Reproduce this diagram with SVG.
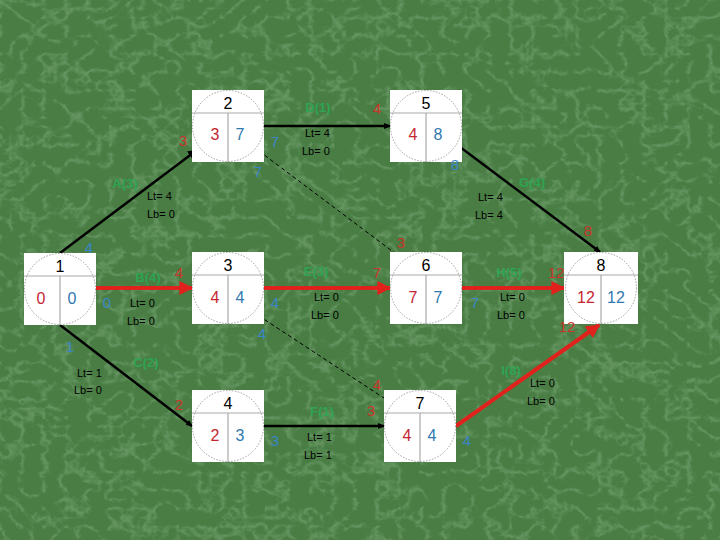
<svg xmlns="http://www.w3.org/2000/svg" width="720" height="540" viewBox="0 0 720 540">
<defs>
<filter id="marble" x="0" y="0" width="100%" height="100%">
<feTurbulence type="turbulence" baseFrequency="0.045 0.055" numOctaves="3" seed="3" result="n"/>
<feColorMatrix in="n" type="matrix" values="0 0 0 0 0.6  0 0 0 0 0.85  0 0 0 0 0.6  -4 0 0 0 1.1" result="veins"/>
<feComposite in="veins" in2="SourceGraphic" operator="in"/>
</filter>
<marker id="arB" viewBox="0 0 10 10" refX="9" refY="5" markerWidth="4" markerHeight="4" orient="auto"><path d="M0,0 L10,5 L0,10 z" fill="#000"/></marker>
<marker id="arR" viewBox="0 0 10 10" refX="9" refY="5" markerWidth="3.5" markerHeight="3.5" orient="auto"><path d="M0,0 L10,5 L0,10 z" fill="#e0211c"/></marker>
<marker id="dot" viewBox="0 0 10 10" refX="8" refY="5" markerWidth="3" markerHeight="3" orient="auto"><path d="M0,1 L10,5 L0,9 z" fill="#000"/></marker>
<style>
.sq{fill:#fff}
.ci{fill:none;stroke:#888;stroke-width:0.8;stroke-dasharray:1.5 1.5}
.dv{stroke:#aaa;stroke-width:1.2}
.t{font-family:"Liberation Sans",Arial,sans-serif;font-size:16px;text-anchor:middle}
.num{fill:#000}
.es{fill:#c42531}
.ls{fill:#2f78b0}
.or{fill:#c8352a;font-family:"Liberation Sans",Arial,sans-serif;font-size:15px;text-anchor:middle}
.ob{fill:#3a86c8;font-family:"Liberation Sans",Arial,sans-serif;font-size:15px;text-anchor:middle}
.gl{fill:#2ea452;font-family:"Liberation Sans",Arial,sans-serif;font-size:13px;font-weight:bold;text-anchor:middle}
.l{fill:#000;font-family:"Liberation Sans",Arial,sans-serif;font-size:11px}
.bk{stroke:#000;stroke-width:2.5;fill:none}
.rd{stroke:#e0211c;stroke-width:4;fill:none}
.ds{stroke:#000;stroke-width:1;stroke-dasharray:4 3;fill:none}
</style>
</defs>
<rect width="720" height="540" fill="#497d44"/>
<rect width="720" height="540" fill="#497d44" filter="url(#marble)" opacity="0.22"/>

<g id="connectors">
<line class="bk" x1="60" y1="253" x2="197" y2="150" marker-end="url(#arB)"/>
<line class="bk" x1="264" y1="126" x2="390" y2="126" marker-end="url(#dot)"/>
<line class="bk" x1="456" y1="144" x2="600" y2="252" marker-end="url(#dot)"/>
<line class="rd" x1="96" y1="288" x2="192" y2="288" marker-end="url(#arR)"/>
<line class="rd" x1="264" y1="288" x2="390" y2="288" marker-end="url(#arR)"/>
<line class="rd" x1="462" y1="288" x2="564" y2="288" marker-end="url(#arR)"/>
<line class="rd" x1="456" y1="426" x2="599" y2="325" marker-end="url(#arR)"/>
<line class="bk" x1="60" y1="325" x2="192" y2="426" marker-end="url(#dot)"/>
<line class="bk" x1="264" y1="426" x2="384" y2="426" marker-end="url(#dot)"/>
<line class="ds" x1="259" y1="151" x2="400" y2="257"/>
<line class="ds" x1="253" y1="312" x2="390" y2="402"/>
</g>

<g id="node1">
<rect class="sq" x="24" y="253" width="72" height="72"/>
<circle class="ci" cx="60" cy="289" r="35.5"/>
<line class="dv" x1="24" y1="276" x2="96" y2="276"/>
<line class="dv" x1="60" y1="276" x2="60" y2="325"/>
<text class="t num" x="60" y="272">1</text>
<text class="t es" x="41" y="304">0</text>
<text class="t ls" x="72" y="304">0</text>
</g>
<g id="node2">
<rect class="sq" x="192" y="90" width="72" height="72"/>
<circle class="ci" cx="228" cy="126" r="35.5"/>
<line class="dv" x1="192" y1="113" x2="264" y2="113"/>
<line class="dv" x1="228" y1="113" x2="228" y2="162"/>
<text class="t num" x="228" y="109">2</text>
<text class="t es" x="215" y="140">3</text>
<text class="t ls" x="240" y="140">7</text>
</g>
<g id="node3">
<rect class="sq" x="192" y="252" width="72" height="72"/>
<circle class="ci" cx="228" cy="288" r="35.5"/>
<line class="dv" x1="192" y1="275" x2="264" y2="275"/>
<line class="dv" x1="228" y1="275" x2="228" y2="324"/>
<text class="t num" x="228" y="271">3</text>
<text class="t es" x="215" y="303">4</text>
<text class="t ls" x="240" y="303">4</text>
</g>
<g id="node4">
<rect class="sq" x="192" y="390" width="72" height="72"/>
<circle class="ci" cx="228" cy="426" r="35.5"/>
<line class="dv" x1="192" y1="413" x2="264" y2="413"/>
<line class="dv" x1="228" y1="413" x2="228" y2="462"/>
<text class="t num" x="228" y="409">4</text>
<text class="t es" x="215" y="441">2</text>
<text class="t ls" x="240" y="441">3</text>
</g>
<g id="node5">
<rect class="sq" x="390" y="90" width="72" height="72"/>
<circle class="ci" cx="426" cy="126" r="35.5"/>
<line class="dv" x1="390" y1="113" x2="462" y2="113"/>
<line class="dv" x1="426" y1="113" x2="426" y2="162"/>
<text class="t num" x="426" y="109">5</text>
<text class="t es" x="413" y="140">4</text>
<text class="t ls" x="438" y="140">8</text>
</g>
<g id="node6">
<rect class="sq" x="390" y="252" width="72" height="72"/>
<circle class="ci" cx="426" cy="288" r="35.5"/>
<line class="dv" x1="390" y1="275" x2="462" y2="275"/>
<line class="dv" x1="426" y1="275" x2="426" y2="324"/>
<text class="t num" x="426" y="271">6</text>
<text class="t es" x="413" y="303">7</text>
<text class="t ls" x="438" y="303">7</text>
</g>
<g id="node7">
<rect class="sq" x="384" y="390" width="72" height="72"/>
<circle class="ci" cx="420" cy="426" r="35.5"/>
<line class="dv" x1="384" y1="413" x2="456" y2="413"/>
<line class="dv" x1="420" y1="413" x2="420" y2="462"/>
<text class="t num" x="420" y="409">7</text>
<text class="t es" x="407" y="441">4</text>
<text class="t ls" x="432" y="441">4</text>
</g>
<g id="node8">
<rect class="sq" x="564" y="252" width="74" height="72"/>
<circle class="ci" cx="601" cy="288" r="35.5"/>
<line class="dv" x1="564" y1="275" x2="638" y2="275"/>
<line class="dv" x1="601" y1="275" x2="601" y2="324"/>
<text class="t num" x="601" y="271">8</text>
<text class="t es" x="586" y="303">12</text>
<text class="t ls" x="616" y="303">12</text>
</g>

<g id="labels">
<text class="or" x="183" y="146">3</text>
<text class="ob" x="275" y="147">7</text>
<text class="ob" x="258" y="177">7</text>
<text class="gl" x="125" y="188">A(3)</text>
<text class="l" x="147" y="200">Lt= 4</text>
<text class="l" x="147" y="218">Lb= 0</text>

<text class="gl" x="318" y="112">D(1)</text>
<text class="or" x="377" y="114">4</text>
<text class="l" x="305" y="137">Lt= 4</text>
<text class="l" x="302" y="155">Lb= 0</text>
<text class="ob" x="455" y="170">8</text>

<text class="gl" x="532" y="187">G(4)</text>
<text class="l" x="478" y="201">Lt= 4</text>
<text class="l" x="475" y="219">Lb= 4</text>
<text class="or" x="588" y="236">8</text>

<text class="ob" x="89" y="253">4</text>
<text class="or" x="401" y="248">3</text>

<text class="gl" x="148" y="282">B(4)</text>
<text class="or" x="179" y="278">4</text>
<text class="ob" x="107" y="308">0</text>
<text class="l" x="130" y="307">Lt= 0</text>
<text class="l" x="127" y="325">Lb= 0</text>

<text class="gl" x="316" y="276">E(3)</text>
<text class="or" x="377" y="278">7</text>
<text class="ob" x="275" y="308">4</text>
<text class="ob" x="262" y="339">4</text>
<text class="l" x="314" y="301">Lt= 0</text>
<text class="l" x="311" y="319">Lb= 0</text>

<text class="gl" x="509" y="277">H(5)</text>
<text class="or" x="556" y="278">12</text>
<text class="ob" x="475" y="308">7</text>
<text class="l" x="500" y="301">Lt= 0</text>
<text class="l" x="497" y="319">Lb= 0</text>
<text class="or" x="567" y="332">12</text>

<text class="ob" x="70" y="352">1</text>
<text class="gl" x="146" y="367">C(2)</text>
<text class="l" x="77" y="377">Lt= 1</text>
<text class="l" x="74" y="394">Lb= 0</text>

<text class="or" x="179" y="410">2</text>
<text class="gl" x="322" y="416">F(1)</text>
<text class="ob" x="275" y="446">3</text>
<text class="l" x="307" y="441">Lt= 1</text>
<text class="l" x="304" y="459">Lb= 1</text>

<text class="or" x="377" y="390">4</text>
<text class="or" x="371" y="416">3</text>
<text class="ob" x="467" y="446">4</text>

<text class="gl" x="511" y="375">I(8)</text>
<text class="l" x="530" y="387">Lt= 0</text>
<text class="l" x="527" y="405">Lb= 0</text>
</g>
</svg>
